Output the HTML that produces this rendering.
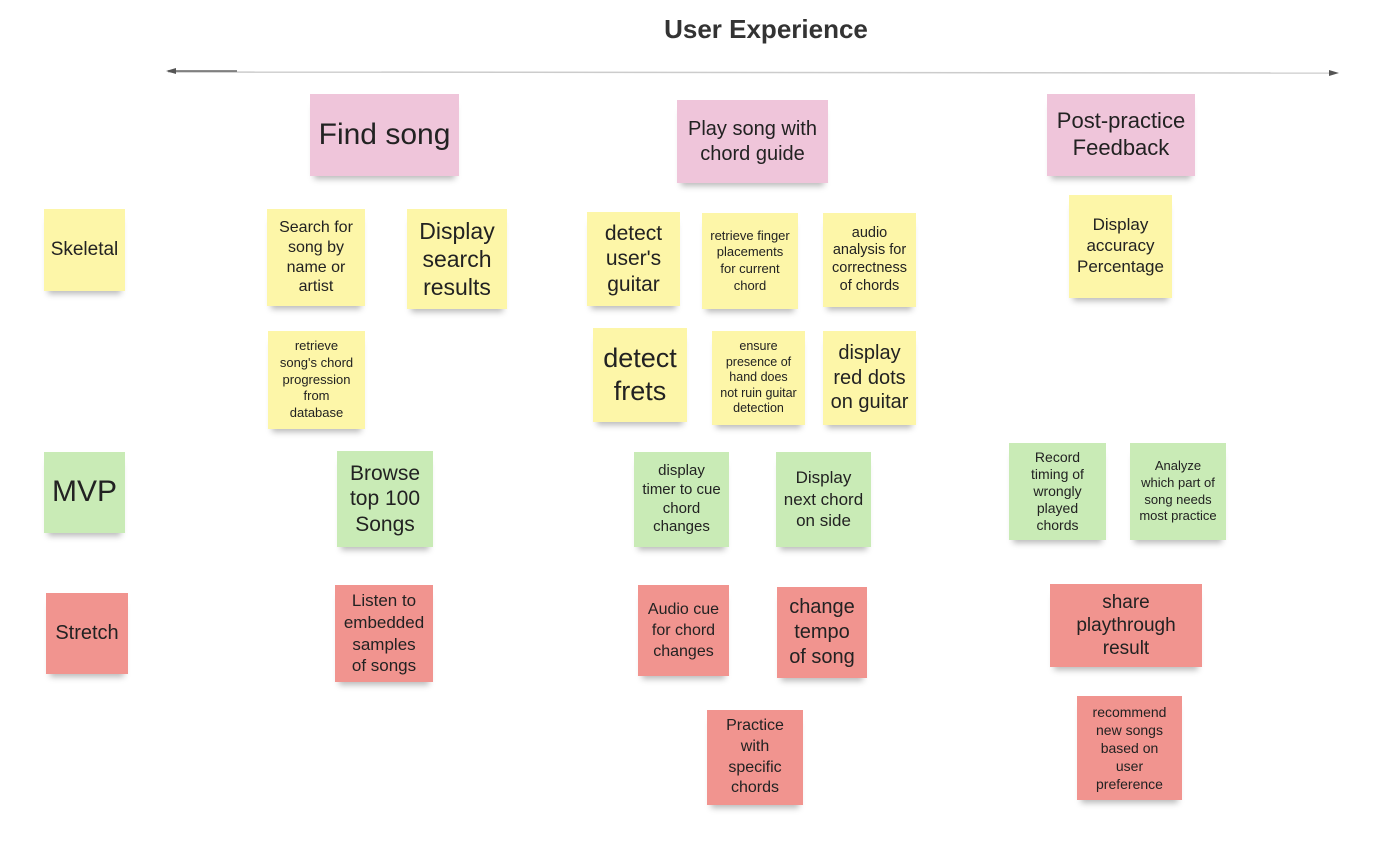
<!DOCTYPE html>
<html><head><meta charset="utf-8"><style>
body{margin:0;width:1388px;height:842px;background:#fff;position:relative;overflow:hidden;font-family:"Liberation Sans",sans-serif;color:#222}
.n{position:absolute;display:flex;align-items:center;justify-content:center;text-align:center;line-height:1.22;box-shadow:0 7px 6px -4px rgba(0,0,0,.28);box-sizing:border-box;padding:2px;white-space:nowrap}
.p{background:#efc5da}.y{background:#fdf6a8}.g{background:#c9ebb6}.r{background:#f1948f}
</style></head><body>
<div style="position:absolute;left:0;width:1532px;top:14px;text-align:center;font-weight:bold;font-size:26px;color:#333">User Experience</div>
<svg style="position:absolute;left:0;top:0" width="1388" height="842">
<line x1="168" y1="72" x2="1334" y2="73" stroke="#ccc" stroke-width="1.5"/>
<line x1="168" y1="71" x2="237" y2="71" stroke="#666" stroke-width="1.5"/>
<polygon points="166,71 176,68 176,74" fill="#555"/>
<polygon points="1339,73 1329,70 1329,76" fill="#555"/>
</svg>
<div class="n p" style="left:310px;top:94px;width:149px;height:82px;font-size:30px">Find song</div>
<div class="n p" style="left:677px;top:100px;width:151px;height:83px;font-size:20px">Play song with<br>chord guide</div>
<div class="n p" style="left:1047px;top:94px;width:148px;height:82px;font-size:22px">Post-practice<br>Feedback</div>
<div class="n y" style="left:44px;top:209px;width:81px;height:82px;font-size:19px">Skeletal</div>
<div class="n y" style="left:267px;top:209px;width:98px;height:97px;font-size:16px">Search for<br>song by<br>name or<br>artist</div>
<div class="n y" style="left:407px;top:209px;width:100px;height:100px;font-size:23px">Display<br>search<br>results</div>
<div class="n y" style="left:268px;top:331px;width:97px;height:98px;font-size:13px;line-height:1.28">retrieve<br>song's chord<br>progression<br>from<br>database</div>
<div class="n y" style="left:587px;top:212px;width:93px;height:94px;font-size:21px">detect<br>user's<br>guitar</div>
<div class="n y" style="left:702px;top:213px;width:96px;height:96px;font-size:13px;line-height:1.28">retrieve finger<br>placements<br>for current<br>chord</div>
<div class="n y" style="left:823px;top:213px;width:93px;height:94px;font-size:14.5px">audio<br>analysis for<br>correctness<br>of chords</div>
<div class="n y" style="left:1069px;top:195px;width:103px;height:103px;font-size:17px">Display<br>accuracy<br>Percentage</div>
<div class="n y" style="left:593px;top:328px;width:94px;height:94px;font-size:27px">detect<br>frets</div>
<div class="n y" style="left:712px;top:331px;width:93px;height:94px;font-size:12.5px;line-height:1.25">ensure<br>presence of<br>hand does<br>not ruin guitar<br>detection</div>
<div class="n y" style="left:823px;top:331px;width:93px;height:94px;font-size:20px">display<br>red dots<br>on guitar</div>
<div class="n g" style="left:44px;top:452px;width:81px;height:81px;font-size:30px">MVP</div>
<div class="n g" style="left:337px;top:451px;width:96px;height:96px;font-size:21px">Browse<br>top 100<br>Songs</div>
<div class="n g" style="left:634px;top:452px;width:95px;height:95px;font-size:15px;line-height:1.25">display<br>timer to cue<br>chord<br>changes</div>
<div class="n g" style="left:776px;top:452px;width:95px;height:95px;font-size:17px;line-height:1.27">Display<br>next chord<br>on side</div>
<div class="n g" style="left:1009px;top:443px;width:97px;height:97px;font-size:14px;line-height:1.22">Record<br>timing of<br>wrongly<br>played<br>chords</div>
<div class="n g" style="left:1130px;top:443px;width:96px;height:97px;font-size:13px;line-height:1.3">Analyze<br>which part of<br>song needs<br>most practice</div>
<div class="n r" style="left:46px;top:593px;width:82px;height:81px;font-size:20px">Stretch</div>
<div class="n r" style="left:335px;top:585px;width:98px;height:97px;font-size:17px;line-height:1.27">Listen to<br>embedded<br>samples<br>of songs</div>
<div class="n r" style="left:638px;top:585px;width:91px;height:91px;font-size:16px;line-height:1.33">Audio cue<br>for chord<br>changes</div>
<div class="n r" style="left:777px;top:587px;width:90px;height:91px;font-size:20px;line-height:1.25">change<br>tempo<br>of song</div>
<div class="n r" style="left:1050px;top:584px;width:152px;height:83px;font-size:19px">share<br>playthrough<br>result</div>
<div class="n r" style="left:707px;top:710px;width:96px;height:95px;font-size:16px;line-height:1.3">Practice<br>with<br>specific<br>chords</div>
<div class="n r" style="left:1077px;top:696px;width:105px;height:104px;font-size:14px;line-height:1.3">recommend<br>new songs<br>based on<br>user<br>preference</div>
</body></html>
